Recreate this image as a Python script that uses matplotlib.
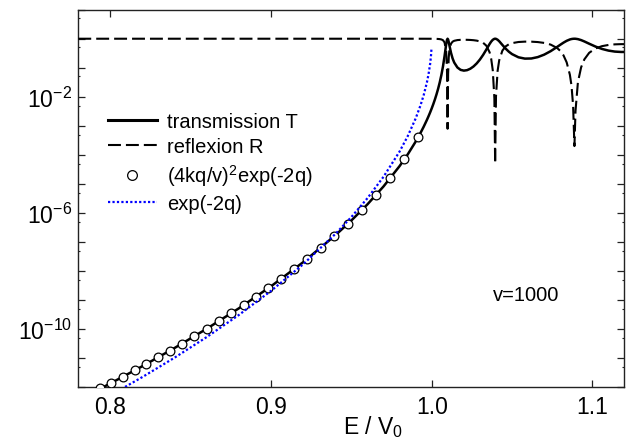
import matplotlib
matplotlib.use('Agg')
import matplotlib.pyplot as plt
from matplotlib.lines import Line2D
from matplotlib.ticker import FixedLocator, FixedFormatter, NullFormatter

plt.rcParams['font.family'] = ['Liberation Sans', 'DejaVu Sans']
plt.rcParams['mathtext.fontset'] = 'custom'
plt.rcParams['mathtext.rm'] = 'Liberation Sans'
plt.rcParams['mathtext.it'] = 'Liberation Sans:italic'
plt.rcParams['mathtext.bf'] = 'Liberation Sans:bold'
plt.rcParams['mathtext.default'] = 'regular'

# ---- data ----
energy = [0.78, 0.80, 0.82, 0.84, 0.86, 0.88, 0.90, 0.92, 0.94, 0.95, 0.96, 0.97,
          0.98, 0.985, 0.99, 0.993, 0.995, 0.997, 0.998, 0.999, 1.000,
          1.001, 1.002, 1.003, 1.004, 1.005, 1.006, 1.007, 1.008, 1.009, 1.0095,
          1.00987, 1.0102, 1.0106, 1.011, 1.012, 1.013, 1.014, 1.016, 1.018, 1.020,
          1.022, 1.024, 1.026, 1.028, 1.030, 1.032, 1.034, 1.036, 1.037, 1.038,
          1.039, 1.03948, 1.040, 1.041, 1.042, 1.044, 1.046, 1.048, 1.050, 1.054,
          1.058, 1.062, 1.066, 1.070, 1.074, 1.078, 1.080, 1.082, 1.084, 1.086,
          1.087, 1.088, 1.08883, 1.0895, 1.091, 1.093, 1.095, 1.098, 1.102, 1.106,
          1.110, 1.114, 1.118, 1.120]

transmission = [3.59e-13, 1.33e-12, 5.25e-12, 2.22e-11, 1.02e-10, 5.16e-10, 2.96e-09,
                2.00e-08, 1.69e-07, 5.48e-07, 1.97e-06, 8.14e-06, 4.09e-05, 1.022e-04,
                2.85e-04, 5.65e-04, 9.29e-04, 1.594e-03, 2.128e-03, 2.885e-03, 3.984e-03,
                0.005623, 0.008149, 0.012208, 0.019058, 0.031454, 0.055976, 0.11077,
                0.25367, 0.6459, 0.9159,
                0.9992, 0.93812, 0.76752, 0.59464, 0.32594, 0.20825, 0.15114, 0.10195,
                0.084421, 0.079601,
                0.082556, 0.092386, 0.11058, 0.14113, 0.1919, 0.27771, 0.42414, 0.65645,
                0.79475, 0.91827,
                0.99108, 0.99995, 0.98982, 0.92264, 0.81964, 0.60971, 0.45645, 0.35777,
                0.29486, 0.22918,
                0.20629, 0.20853, 0.23251, 0.28293, 0.3719, 0.51855, 0.61796, 0.73136,
                0.84678, 0.94278,
                0.97561, 0.99498, 0.9998, 0.99675, 0.96812, 0.8961, 0.806, 0.67323,
                0.53524, 0.44486,
                0.38999, 0.36027, 0.34944, 0.35001]

reflexion = [1.0, 1.0, 1.0, 1.0, 1.0, 1.0, 1.0, 1.0, 1.0, 1.0, 1.0, 1.0,
             1.0, 0.9999, 0.99972, 0.99943, 0.99907, 0.99841, 0.99787, 0.99711, 0.99602,
             0.99437, 0.99185, 0.98779, 0.98094, 0.96855, 0.94402, 0.88923, 0.74633,
             0.3541, 0.0841,
             7.9e-4, 0.06188, 0.23248, 0.40536, 0.67406, 0.79175, 0.84886, 0.89805,
             0.91558, 0.9204,
             0.91744, 0.90761, 0.88942, 0.85887, 0.8081, 0.72229, 0.57586, 0.34355,
             0.20525, 0.081727,
             0.0089152, 5.0e-5, 0.010176, 0.077357, 0.18036, 0.39029, 0.54355, 0.64223,
             0.70514, 0.77082,
             0.79371, 0.79147, 0.76749, 0.71707, 0.6281, 0.48145, 0.38204, 0.26864,
             0.15322, 0.057222,
             0.024392, 0.0050165, 2.0e-4, 0.0032505, 0.031882, 0.1039, 0.194, 0.32677,
             0.46476, 0.55514,
             0.61001, 0.63973, 0.65056, 0.64999]

circle_energy = [0.7938, 0.8006, 0.8079, 0.8152, 0.8224, 0.8297, 0.8371, 0.8446, 0.8523,
                 0.8600, 0.8676, 0.8753, 0.8830, 0.8904, 0.8983, 0.9063, 0.9144, 0.9225,
                 0.9308, 0.9392, 0.9477, 0.9564, 0.9652, 0.9741, 0.9830, 0.9917]
circle_T = [8.93e-13, 1.39e-12, 2.27e-12, 3.75e-12, 6.21e-12, 1.04e-11, 1.79e-11, 3.12e-11,
            5.60e-11, 1.02e-10, 1.86e-10, 3.48e-10, 6.64e-10, 1.26e-09, 2.54e-09, 5.31e-09,
            1.15e-08, 2.58e-08, 6.12e-08, 1.54e-07, 4.14e-07, 1.23e-06, 4.04e-06, 1.53e-05,
            7.01e-05, 4.14e-04]

exp_energy = [0.78, 0.80, 0.82, 0.84, 0.86, 0.88, 0.90, 0.92, 0.94, 0.95, 0.96, 0.97, 0.98,
              0.985, 0.99, 0.993, 0.995, 0.997, 0.998, 0.999, 0.9995, 0.99985]
exp_T = [1.31e-13, 5.20e-13, 2.22e-12, 1.03e-11, 5.28e-11, 3.05e-10, 2.06e-09, 1.70e-08,
         1.87e-07, 7.21e-07, 3.21e-06, 1.75e-05, 1.30e-04, 4.33e-04, 1.79e-03, 5.04e-03,
         1.14e-02, 3.13e-02, 5.91e-02, 0.1353, 0.2431, 0.4609]

x_ticks = [0.8, 0.9, 1.0, 1.1]
x_ticklabels = ['0.8', '0.9', '1.0', '1.1']
y_decades = [-12, -11, -10, -9, -8, -7, -6, -5, -4, -3, -2, -1, 0, 1]
y_labelled = {-2: '$10^{-2}$', -6: '$10^{-6}$', -10: '$10^{-10}$'}

labels = ['transmission T', 'reflexion R', '(4kq/v)$^2$exp(-2q)', 'exp(-2q)']

# ---- figure ----
W, H = 628, 439
fig = plt.figure(figsize=(W / 100, H / 100), dpi=100)
L, R_, T_, B = 78.3, 623.7, 10.7, 388.0
ax = fig.add_axes([L / W, 1 - B / H, (R_ - L) / W, (B - T_) / H])

ax.plot(energy, transmission, color='black', lw=1.8, zorder=3)
ax.plot(energy, reflexion, color='black', lw=1.5, dashes=(6.2, 2.4), zorder=3)
ax.plot(circle_energy, circle_T, ls='none', marker='o', ms=6.3, mfc='white',
        mec='black', mew=0.9, zorder=4)
ax.plot(exp_energy, exp_T, color='#0000FF', lw=1.6, dashes=(1.0, 1.0), zorder=5)

ax.set_yscale('log')
ax.set_xlim(0.78, 1.1195)
ax.set_ylim(1e-12, 1e1)

ax.xaxis.set_major_locator(FixedLocator(x_ticks))
ax.xaxis.set_major_formatter(FixedFormatter(x_ticklabels))
ax.xaxis.set_minor_locator(FixedLocator([]))

ymaj = [10.0 ** d for d in y_decades]
ax.yaxis.set_major_locator(FixedLocator(ymaj))
ax.yaxis.set_major_formatter(FixedFormatter([y_labelled.get(d, '') for d in y_decades]))
ax.yaxis.set_minor_locator(FixedLocator([5 * 10.0 ** d for d in y_decades]))
ax.yaxis.set_minor_formatter(NullFormatter())

ax.tick_params(which='both', direction='in', top=True, right=True, color='#222222')
ax.tick_params(which='major', length=5.2, width=0.9, labelsize=16.5, pad=4.5)
ax.tick_params(which='minor', length=1.6, width=0.8)
ax.tick_params(axis='x', which='major', pad=6)
for s in ax.spines.values():
    s.set_linewidth(1.0)
    s.set_color('#222222')

ax.set_xlabel('E / V$_0$', fontsize=16.5)
ax.xaxis.set_label_coords(0.54, -0.07)

ax.text(0.8203, 0.2446, 'v=1000', transform=ax.transAxes, fontsize=14.5,
        ha='center', va='center')

handles = [Line2D([], [], color='black', lw=2.2),
           Line2D([], [], color='black', lw=1.5, dashes=(6.2, 2.4)),
           Line2D([], [], ls='none', marker='o', ms=7, mfc='white', mec='black', mew=0.9),
           Line2D([], [], color='#0000FF', lw=1.6, dashes=(1.0, 1.0))]
ax.legend(handles, labels, loc='upper left', bbox_to_anchor=(0.054, 0.729),
          frameon=False, fontsize=14.5, handlelength=2.45, handletextpad=0.5,
          labelspacing=0.3, borderaxespad=0, borderpad=0, numpoints=1)

fig.savefig('out.png', dpi=100)
